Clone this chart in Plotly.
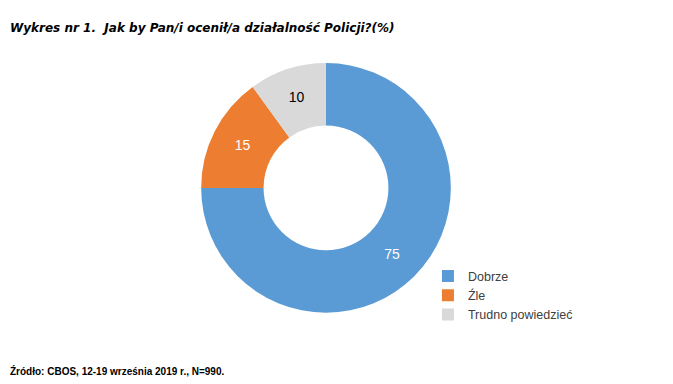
import plotly.graph_objects as go

labels = ["Dobrze", "Źle", "Trudno powiedzieć"]
values = [75, 15, 10]
colors = ["#5B9BD5", "#ED7D31", "#D9D9D9"]
text_colors = ["white", "white", "black"]

fig = go.Figure(go.Pie(
    labels=labels, values=values, hole=0.5, sort=False, direction="clockwise",
    rotation=0, marker=dict(colors=colors, line=dict(color="white", width=0)),
    texttemplate="%{value}", textposition="inside", insidetextorientation="horizontal",
    textfont=dict(color=text_colors, size=14, family="Liberation Sans"),
    domain=dict(x=[0.287, 0.658], y=[0.206, 0.857]), showlegend=True,
))
fig.update_layout(
    width=673, height=384, margin=dict(l=0, r=0, t=0, b=0),
    paper_bgcolor="white", plot_bgcolor="white",
    legend=dict(x=0.624, y=0.340, xanchor="left", yanchor="top",
                font=dict(family="Liberation Sans", size=12.5, color="#404040"),
                itemwidth=30, tracegroupgap=0),
    annotations=[
        dict(text="<b><i>Wykres nr 1.  Jak by Pan/i ocenił/a działalność Policji?(%)</i></b>",
             x=0.0, y=1 - 20/384, xref="paper", yref="paper", xanchor="left", yanchor="middle",
             showarrow=False, font=dict(family="DejaVu Sans", size=12, color="black")),
        dict(text="<b>Źródło: CBOS, 12-19 września 2019 r., N=990.</b>",
             x=0.0, y=1 - 363/384, xref="paper", yref="paper", xanchor="left", yanchor="middle",
             showarrow=False, font=dict(family="Liberation Sans", size=10, color="black")),
    ],
)
fig.write_html("out.html")
